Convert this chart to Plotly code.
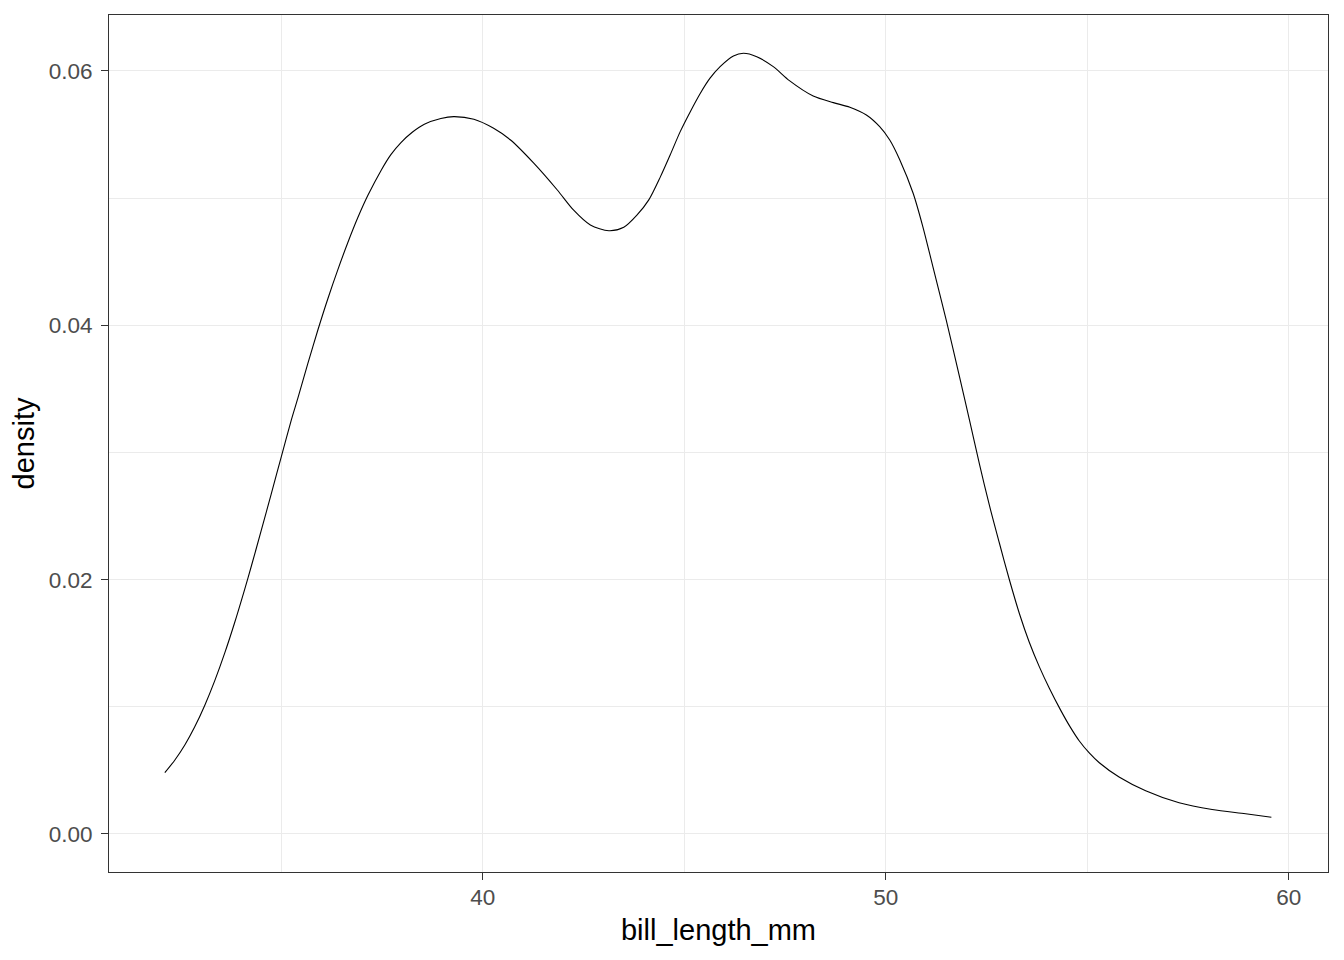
import plotly.graph_objects as go

bill_length_mm = [32.11, 32.36, 32.61, 32.85, 33.10, 33.35, 33.60, 33.84, 34.09, 34.26,
                  34.50, 34.75, 35.00, 35.25, 35.41, 35.66, 35.91, 36.16, 36.40, 36.65,
                  36.90, 37.15, 37.48, 37.72, 37.97, 38.25, 38.55, 38.96, 39.28, 39.78,
                  40.27, 40.69, 41.26, 41.85, 42.25, 42.67, 43.13, 43.50, 43.83, 44.12,
                  44.41, 44.65, 44.90, 45.15, 45.40, 45.64, 45.89, 46.22, 46.47, 46.80,
                  47.21, 47.61, 48.20, 48.70, 49.11, 49.52, 49.85, 50.10, 50.35, 50.68,
                  50.92, 51.17, 51.50, 51.83, 52.08, 52.33, 52.57, 52.82, 53.07, 53.32,
                  53.56, 53.81, 54.06, 54.35, 54.58, 54.80, 55.05, 55.30, 55.79, 56.45,
                  57.28, 58.10, 58.93, 59.57]
density = [0.00482, 0.00582, 0.00702, 0.00841, 0.01011, 0.01206, 0.01426, 0.01659, 0.01922, 0.02109,
           0.02383, 0.02673, 0.02966, 0.03256, 0.03425, 0.03700, 0.03965, 0.04213, 0.04434, 0.04649,
           0.04847, 0.05022, 0.05220, 0.05342, 0.05437, 0.05518, 0.05581, 0.05626, 0.05641, 0.05620,
           0.05549, 0.05457, 0.05277, 0.05064, 0.04907, 0.04789, 0.04744, 0.04771, 0.04868, 0.04986,
           0.05169, 0.05339, 0.05523, 0.05680, 0.05825, 0.05943, 0.06034, 0.06118, 0.06139, 0.06112,
           0.06034, 0.05924, 0.05803, 0.05751, 0.05715, 0.05654, 0.05562, 0.05457, 0.05300, 0.05038,
           0.04776, 0.04461, 0.04042, 0.03596, 0.03252, 0.02902, 0.02587, 0.02288, 0.01997, 0.01730,
           0.01510, 0.01316, 0.01146, 0.00968, 0.00840, 0.00733, 0.00637, 0.00560, 0.00448, 0.00340,
           0.00245, 0.00192, 0.00159, 0.00132]

x_ticks = [40, 50, 60]
x_minor = [35, 45, 55]
y_ticks = [0.00, 0.02, 0.04, 0.06]
y_tick_labels = ["0.00", "0.02", "0.04", "0.06"]
y_minor = [0.01, 0.03, 0.05]

fig = go.Figure()
fig.add_trace(go.Scatter(x=bill_length_mm, y=density, mode="lines",
                         line=dict(color="black", width=1.1, shape="spline", smoothing=0.8),
                         showlegend=False, hoverinfo="skip"))

font = "Liberation Sans, Arial, sans-serif"
axis_common = dict(
    showline=True, linecolor="#333333", linewidth=1.1, mirror=True,
    ticks="outside", ticklen=7, tickcolor="#333333", tickwidth=1.1,
    showgrid=True, gridcolor="#EBEBEB", gridwidth=1.1,
    zeroline=False, automargin=False,
    tickfont=dict(family=font, size=22.5, color="#4D4D4D"),
)

fig.update_layout(
    width=1336, height=952,
    margin=dict(l=101, r=16, t=7, b=88),
    paper_bgcolor="white", plot_bgcolor="white",
    xaxis=dict(axis_common, range=[30.725, 60.975], tickvals=x_ticks,
               ticklabelstandoff=-2,
               minor=dict(showgrid=True, gridcolor="#EBEBEB", gridwidth=0.55,
                          tickvals=x_minor, ticks=""),
               title=dict(text="bill_length_mm", font=dict(family=font, size=29, color="black"),
                          standoff=10)),
    yaxis=dict(axis_common, range=[-0.00299, 0.0644], tickvals=y_ticks, ticktext=y_tick_labels,
               ticklabelstandoff=4,
               minor=dict(showgrid=True, gridcolor="#EBEBEB", gridwidth=0.55,
                          tickvals=y_minor, ticks=""),
               title=dict(text="density", font=dict(family=font, size=29, color="black"),
                          standoff=6)),
)

fig.write_html("out.html")
